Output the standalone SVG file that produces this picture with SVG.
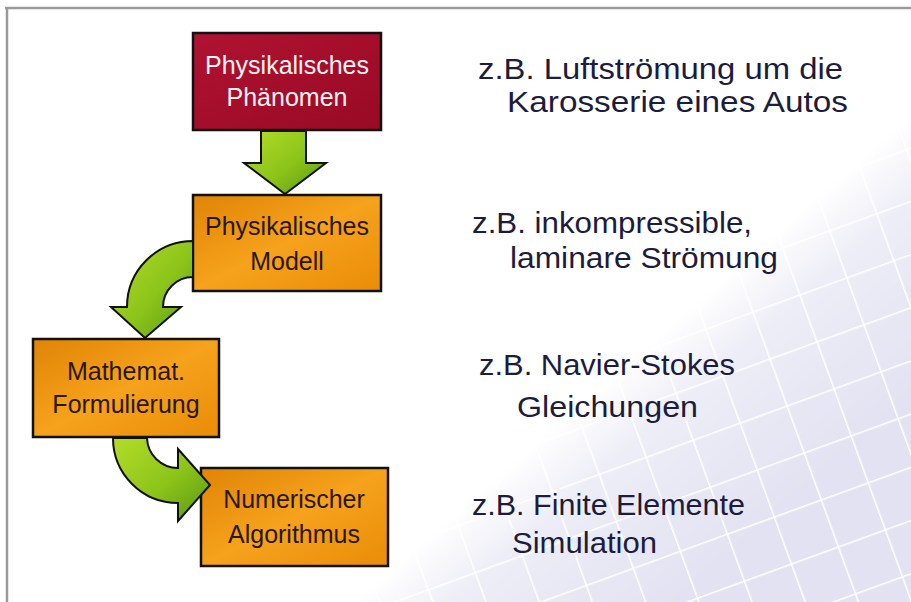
<svg xmlns="http://www.w3.org/2000/svg" width="911" height="602" viewBox="0 0 911 602">
  <style>
    .box { stroke: #111; stroke-width: 2.5; }
    .red { fill: url(#gRed); }
    .orange { fill: url(#gOrange); }
    .arrow { fill: url(#gGreen); stroke: #111; stroke-width: 2; stroke-linejoin: miter; }
    .bt { font-family: "Liberation Sans", Arial, sans-serif; font-size: 25px; text-anchor: middle; }
    .bt-w { fill: #fff2f2; }
    .bt-d { fill: #2a1606; }
    .rt { font-family: "Liberation Sans", Arial, sans-serif; font-size: 29px; fill: #1c1c3c; }
  </style>
  <defs>
    <linearGradient id="gRed" x1="0" y1="0" x2="1" y2="1">
      <stop offset="0" stop-color="#b01232"/>
      <stop offset="1" stop-color="#980a24"/>
    </linearGradient>
    <linearGradient id="gOrange" x1="0" y1="0" x2="1" y2="1">
      <stop offset="0" stop-color="#e08406"/>
      <stop offset="0.5" stop-color="#f6a21c"/>
      <stop offset="1" stop-color="#ea8c08"/>
    </linearGradient>
    <linearGradient id="gGreen" x1="0" y1="0" x2="1" y2="1">
      <stop offset="0" stop-color="#b4dc28"/>
      <stop offset="0.55" stop-color="#8cc41a"/>
      <stop offset="1" stop-color="#5a9612"/>
    </linearGradient>
    <pattern id="grid" width="50" height="50" patternUnits="userSpaceOnUse" patternTransform="rotate(-20)">
      <rect width="50" height="50" fill="#e2e2f2"/>
      <path d="M0,0.75 H50 M0.75,0 V50" stroke="#ffffff" stroke-width="1.5" fill="none"/>
    </pattern>
    <linearGradient id="gFade" gradientUnits="userSpaceOnUse" x1="630" y1="360" x2="770" y2="520">
      <stop offset="0" stop-color="#000"/>
      <stop offset="0.3" stop-color="#999"/>
      <stop offset="1" stop-color="#fff"/>
    </linearGradient>
    <mask id="mFade" maskUnits="userSpaceOnUse" x="0" y="0" width="911" height="602">
      <rect x="0" y="0" width="911" height="602" fill="url(#gFade)"/>
    </mask>
  </defs>

  <g id="background">
    <rect x="0" y="0" width="911" height="602" fill="#ffffff"/>
    <rect x="8" y="9" width="903" height="593" fill="url(#grid)" mask="url(#mFade)"/>
    <path d="M5,8 H911 M7,8 V602" stroke="#9a9a9a" stroke-width="2.5" fill="none"/>
  </g>

  <g id="n1">
    <rect class="box red" x="193" y="33" width="188" height="97"/>
    <text class="bt bt-w" x="287" y="74">Physikalisches</text>
    <text class="bt bt-w" x="287" y="106">Phänomen</text>
  </g>
  <g id="n2">
    <rect class="box orange" x="193" y="195" width="188" height="96"/>
    <text class="bt bt-d" x="287" y="235">Physikalisches</text>
    <text class="bt bt-d" x="287" y="270">Modell</text>
  </g>
  <g id="n3">
    <rect class="box orange" x="33" y="339" width="186" height="98"/>
    <text class="bt bt-d" x="126" y="380">Mathemat.</text>
    <text class="bt bt-d" x="126" y="413">Formulierung</text>
  </g>
  <g id="n4">
    <rect class="box orange" x="201" y="468" width="187" height="98"/>
    <text class="bt bt-d" x="294" y="508">Numerischer</text>
    <text class="bt bt-d" x="294" y="543">Algorithmus</text>
  </g>

  <g id="connectors">
    <path class="arrow" d="M261,131 L306,131 L306,163 L326,163 L285,194 L244,163 L261,163 Z"/>
    <path class="arrow" d="M193,241 A66,66 0 0 0 127,307 L111,307 L145,338 L181,307 L163,307 A30,30 0 0 1 193,277 Z"/>
    <path class="arrow" d="M113,438 A65,65 0 0 0 178,503 L178,521 L210,485 L178,449 L178,468 A31,31 0 0 1 147,438 Z"/>
  </g>

  <g id="labels">
    <text class="rt" x="478" y="79" textLength="365" lengthAdjust="spacingAndGlyphs">z.B. Luftströmung um die</text>
    <text class="rt" x="507" y="112" textLength="341" lengthAdjust="spacingAndGlyphs">Karosserie eines Autos</text>
    <text class="rt" x="472" y="233" textLength="280" lengthAdjust="spacingAndGlyphs">z.B. inkompressible,</text>
    <text class="rt" x="510" y="268" textLength="268" lengthAdjust="spacingAndGlyphs">laminare Strömung</text>
    <text class="rt" x="479" y="375" textLength="256" lengthAdjust="spacingAndGlyphs">z.B. Navier-Stokes</text>
    <text class="rt" x="517" y="417" textLength="181" lengthAdjust="spacingAndGlyphs">Gleichungen</text>
    <text class="rt" x="472" y="515" textLength="273" lengthAdjust="spacingAndGlyphs">z.B. Finite Elemente</text>
    <text class="rt" x="512" y="553" textLength="145" lengthAdjust="spacingAndGlyphs">Simulation</text>
  </g>
</svg>
